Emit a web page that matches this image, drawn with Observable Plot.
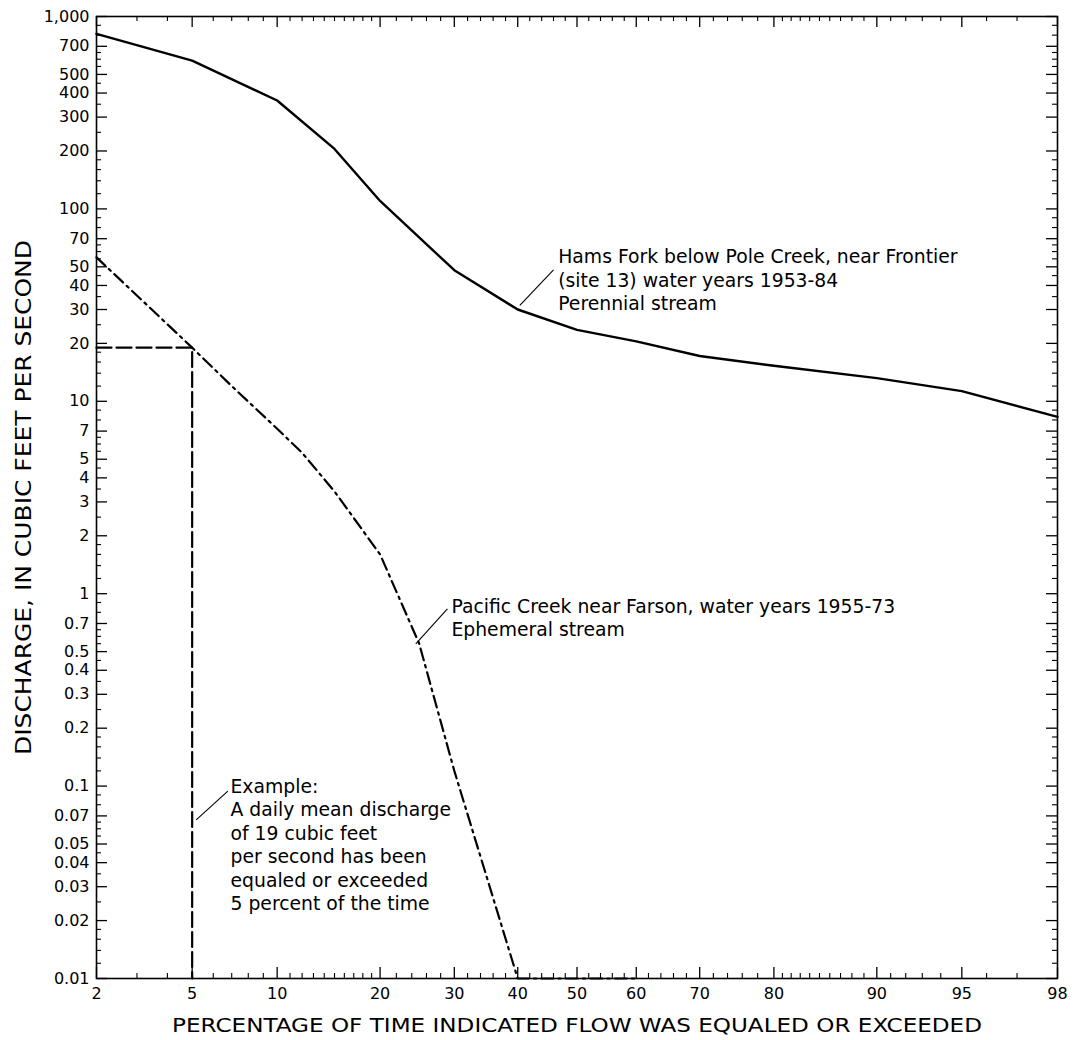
<!DOCTYPE html>
<html><head><meta charset="utf-8">
<script src="https://cdn.jsdelivr.net/npm/d3@7"></script>
<script src="https://cdn.jsdelivr.net/npm/@observablehq/plot@0.6"></script>
<style>body{margin:0;background:#fff} svg{display:block}</style>
</head><body><div id="chart"></div>
<script>
// ---- data (percent of time exceeded, discharge in ft3/s) ----
const hamsPercent   = [2, 5, 10, 15, 20, 30, 40, 50, 60, 70, 80, 90, 95, 98];
const hamsDischarge = [813, 590, 366, 205, 110, 48, 30, 23.5, 20.5, 17.2, 15.3, 13.2, 11.3, 8.3];
const pacificPercent   = [2, 5, 7, 10, 12, 15, 20, 25, 30, 40, 50, 60];
const pacificDischarge = [56, 19, 12, 7.2, 5.4, 3.4, 1.6, 0.55, 0.12, 0.01, 0.01, 0.01];
const examplePercent   = [2, 5, 5];
const exampleDischarge = [19, 19, 0.01];

// ---- tick labels ----
const xTickLabels = [2, 5, 10, 20, 30, 40, 50, 60, 70, 80, 90, 95, 98];
const xMinorTicks = [3, 4, 6, 7, 8, 9, 11, 12, 13, 14, 15, 16, 17, 18, 19,
  22, 24, 26, 28, 32, 34, 36, 38, 42, 44, 46, 48, 52, 54, 56, 58, 62, 64, 66, 68,
  72, 74, 76, 78, 81, 82, 83, 84, 85, 86, 87, 88, 89, 91, 92, 93, 94, 96, 97];
const yTickLabels = [0.01, 0.02, 0.03, 0.04, 0.05, 0.07, 0.1, 0.2, 0.3, 0.4, 0.5, 0.7,
  1, 2, 3, 4, 5, 7, 10, 20, 30, 40, 50, 70, 100, 200, 300, 400, 500, 700, 1000];
const yMinorMantissas = [1.2, 1.4, 1.6, 1.8, 2.5, 3.5, 4.5, 5.5, 6, 6.5, 8, 9];
const yDecades = [0.01, 0.1, 1, 10, 100];

// ---- annotations ----
const xTitle = "PERCENTAGE OF TIME INDICATED FLOW WAS EQUALED OR EXCEEDED";
const yTitle = "DISCHARGE, IN CUBIC FEET PER SECOND";
const annoText = [
  "Hams Fork below Pole Creek, near Frontier\n(site 13) water years 1953-84\nPerennial stream",
  "Pacific Creek near Farson, water years 1955-73\nEphemeral stream",
  "Example:\nA daily mean discharge\nof 19 cubic feet\nper second has been\nequaled or exceeded\n5 percent of the time"
];
const annoTextPercent = [46.8, 29.57, 6.93];
const annoTextDischarge = [43, 0.757, 0.0501];
const leaderPercent1 = [40.35, 24.54, 5.18];
const leaderDischarge1 = [31.5, 0.549, 0.0668];
const leaderPercent2 = [46.0, 28.98, 6.78];
const leaderDischarge2 = [48.2, 0.835, 0.0941];

// inverse standard normal CDF (probability-paper axis)
function probit(p){
  const a=[-3.969683028665376e+01,2.209460984245205e+02,-2.759285104469687e+02,1.383577518672690e+02,-3.066479806614716e+01,2.506628277459239e+00];
  const b=[-5.447609879822406e+01,1.615858368580409e+02,-1.556989798598866e+02,6.680131188771972e+01,-1.328068155288572e+01];
  const c=[-7.784894002430293e-03,-3.223964580411365e-01,-2.400758277161838e+00,-2.549732539343734e+00,4.374664141464968e+00,2.938163982698783e+00];
  const d=[7.784695709041462e-03,3.224671290700398e-01,2.445134137142996e+00,3.754408661907416e+00];
  const pl=0.02425, ph=1-pl; let q, r;
  if (p < pl) { q=Math.sqrt(-2*Math.log(p)); return (((((c[0]*q+c[1])*q+c[2])*q+c[3])*q+c[4])*q+c[5])/((((d[0]*q+d[1])*q+d[2])*q+d[3])*q+1); }
  if (p <= ph) { q=p-0.5; r=q*q; return (((((a[0]*r+a[1])*r+a[2])*r+a[3])*r+a[4])*r+a[5])*q/(((((b[0]*r+b[1])*r+b[2])*r+b[3])*r+b[4])*r+1); }
  q=Math.sqrt(-2*Math.log(1-p)); return -(((((c[0]*q+c[1])*q+c[2])*q+c[3])*q+c[4])*q+c[5])/((((d[0]*q+d[1])*q+d[2])*q+d[3])*q+1);
}
const px = p => probit(p / 100);

const hams = hamsPercent.map((p, i) => ({p, q: hamsDischarge[i]}));
const pacific = pacificPercent.map((p, i) => ({p, q: pacificDischarge[i]}));
const example = examplePercent.map((p, i) => ({p, q: exampleDischarge[i]}));
const annos = annoText.map((t, i) => ({t, p: annoTextPercent[i], q: annoTextDischarge[i]}));
const leaders = leaderPercent1.map((p, i) => ({p1: p, q1: leaderDischarge1[i], p2: leaderPercent2[i], q2: leaderDischarge2[i]}));
const yMinorTicks = yDecades.flatMap(d => yMinorMantissas.map(m => +(d * m).toPrecision(6)));

const W = 1076, H = 1040, mL = 96, mR = 19, mT = 16, mB = 62;
const plotW = W - mL - mR, plotH = H - mT - mB;
const FONT = "DejaVu Sans";
const fmt = d3.format(",");

const chart = Plot.plot({
  width: W, height: H,
  marginLeft: mL, marginRight: mR, marginTop: mT, marginBottom: mB,
  style: {fontFamily: FONT, background: "#fff", color: "#000"},
  x: {type: "linear", domain: [probit(0.02), probit(0.98)], axis: null},
  y: {type: "log", domain: [0.01, 1000], axis: null},
  marks: [
    // inward tick marks on all four sides
    Plot.ruleX(xTickLabels, {x: px, insetTop: plotH - 11, stroke: "#000", strokeWidth: 1.3}),
    Plot.ruleX(xMinorTicks, {x: px, insetTop: plotH - 5, stroke: "#000", strokeWidth: 1.1}),
    Plot.ruleX(xTickLabels, {x: px, insetBottom: plotH - 11, stroke: "#000", strokeWidth: 1.3}),
    Plot.ruleX(xMinorTicks, {x: px, insetBottom: plotH - 5, stroke: "#000", strokeWidth: 1.1}),
    Plot.ruleY(yTickLabels, {y: d => d, insetRight: plotW - 11, stroke: "#000", strokeWidth: 1.3}),
    Plot.ruleY(yMinorTicks, {y: d => d, insetRight: plotW - 5, stroke: "#000", strokeWidth: 1.1}),
    Plot.ruleY(yTickLabels, {y: d => d, insetLeft: plotW - 11, stroke: "#000", strokeWidth: 1.3}),
    Plot.ruleY(yMinorTicks, {y: d => d, insetLeft: plotW - 5, stroke: "#000", strokeWidth: 1.1}),
    Plot.frame({stroke: "#000", strokeWidth: 1.6}),
    // tick labels
    Plot.text(xTickLabels, {x: px, frameAnchor: "bottom", dy: 15.5, text: d => String(d),
      fontSize: 16, fill: "#000", lineAnchor: "middle"}),
    Plot.text(yTickLabels, {y: d => d, frameAnchor: "left", dx: -7, textAnchor: "end", text: d => fmt(d),
      fontSize: 16, fill: "#000", lineAnchor: "middle"}),
    // axis titles
    Plot.text([xTitle], {frameAnchor: "bottom", dy: 47, text: d => d, textAnchor: "middle",
      fontSize: 19, fill: "#000", lineAnchor: "middle"}),
    Plot.text([yTitle], {frameAnchor: "left", dx: -73, rotate: -90, text: d => d, textAnchor: "middle",
      fontSize: 22, fill: "#000", lineAnchor: "middle"}),
    // example guide
    Plot.line(example, {x: d => px(d.p), y: "q", stroke: "#000", strokeWidth: 2.2, strokeDasharray: "15,5"}),
    // flow-duration curves
    Plot.line(pacific, {x: d => px(d.p), y: "q", stroke: "#000", strokeWidth: 2.2, strokeDasharray: "12,5,2.5,5"}),
    Plot.line(hams, {x: d => px(d.p), y: "q", stroke: "#000", strokeWidth: 2.4}),
    // leaders and annotation text
    Plot.link(leaders, {x1: d => px(d.p1), y1: "q1", x2: d => px(d.p2), y2: "q2", stroke: "#000", strokeWidth: 1.1}),
    Plot.text(annos, {x: d => px(d.p), y: "q", text: "t", textAnchor: "start", lineAnchor: "middle",
      lineHeight: 1.25, fontSize: 18.8, fill: "#000"})
  ]
});
// widen the axis titles to the reference's letter width
d3.select(chart).selectAll("text").each(function() {
  if (this.textContent === xTitle) d3.select(this).attr("textLength", 810).attr("lengthAdjust", "spacingAndGlyphs");
  if (this.textContent === yTitle) d3.select(this).attr("textLength", 515).attr("lengthAdjust", "spacingAndGlyphs");
});
document.getElementById("chart").appendChild(chart);
</script>
</body></html>
